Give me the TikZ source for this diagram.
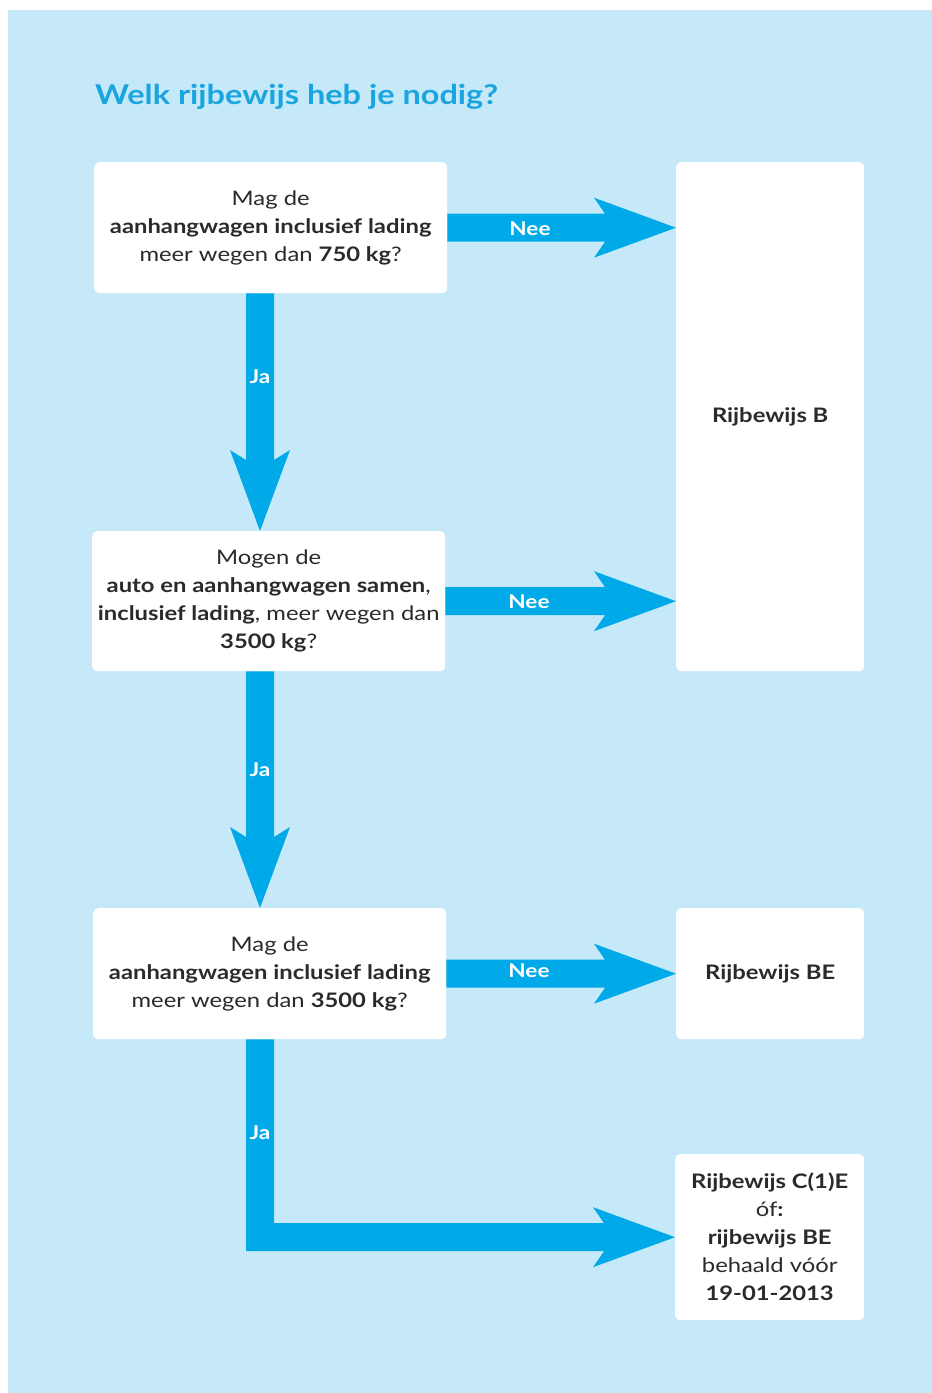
\documentclass[tikz,border=0pt]{standalone}
\usepackage{fontspec}
\setmainfont{Lato}[FakeStretch=1.19]
\usetikzlibrary{calc}
\definecolor{bgblue}{HTML}{C6E9F9}
\definecolor{arrowblue}{HTML}{00AAE9}
\definecolor{titleblue}{HTML}{1AA5DF}
\definecolor{txt}{HTML}{2A2A2A}
\tikzset{
  box/.style={fill=white, rounded corners=5pt, anchor=north west, align=center,
    text=txt, font=\fontsize{20}{28}\selectfont, inner sep=0pt},
  lbl/.style={text=white, font=\bfseries\fontsize{19}{22}\selectfont, inner sep=0pt},
  arr/.style={fill=arrowblue},
}
% horizontal arrow from point #1 (start, centre of shaft) to tip #2
\newcommand\HArrow[2]{%
  \fill[arr] let \p1=(#1), \p2=(#2) in
    (\x1,\y2+14pt) -- (\x2-71pt,\y2+14pt) -- (\x2-82pt,\y2+30pt) -- (\x2,\y2)
    -- (\x2-82pt,\y2-30pt) -- (\x2-71pt,\y2-14pt) -- (\x1,\y2-14pt) -- cycle;}
% vertical arrow from point #1 down to tip #2
\newcommand\VArrow[2]{%
  \fill[arr] let \p1=(#1), \p2=(#2) in
    (\x2-14pt,\y1) -- (\x2+14pt,\y1) -- (\x2+14pt,\y2+71pt) -- (\x2+30pt,\y2+81pt)
    -- (\x2,\y2) -- (\x2-30pt,\y2+81pt) -- (\x2-14pt,\y2+71pt) -- cycle;}
\begin{document}
\begin{tikzpicture}[x=1pt,y=-1pt]
\useasboundingbox (0,0) rectangle (932,1393);
\fill[bgblue] (8,10) rectangle (932,1393);

\node[anchor=base west, text=titleblue, font=\bfseries\fontsize{27.3}{32}\selectfont, inner sep=0pt]
  (title) at (95,104) {Welk rijbewijs heb je nodig?};

\node[box, minimum width=353pt, minimum height=131pt] (q1) at (94,162)
  {Mag de\\\textbf{aanhangwagen inclusief lading}\\meer wegen dan \textbf{750 kg}?};
\node[box, minimum width=353pt, minimum height=140pt] (q2) at (92,531)
  {Mogen de\\\textbf{auto en aanhangwagen samen},\\\textbf{inclusief lading}, meer wegen dan\\\textbf{3500 kg}?};
\node[box, minimum width=353pt, minimum height=131pt] (q3) at (93,908)
  {Mag de\\\textbf{aanhangwagen inclusief lading}\\meer wegen dan \textbf{3500 kg}?};
\node[box, minimum width=188pt, minimum height=509pt] (b) at (676,162) {\textbf{Rijbewijs B}};
\node[box, minimum width=188pt, minimum height=131pt] (be) at (676,908) {\textbf{Rijbewijs BE}};
\node[box, minimum width=189pt, minimum height=166pt] (c) at (675,1154)
  {\textbf{Rijbewijs C(1)E}\\óf\textbf{:}\\\textbf{rijbewijs BE}\\behaald vóór\\\textbf{19-01-2013}};

% Nee arrows
\coordinate (t1) at (b.west |- q1.east);
\coordinate (t2) at (b.west |- q2.east);
\coordinate (t3) at (be.west |- q3.east);
\HArrow{q1.east}{t1}
\HArrow{q2.east}{t2}
\HArrow{q3.east}{t3}
\node[lbl] (n1) at (530,229) {Nee};
\node[lbl] (n2) at (529,602) {Nee};
\node[lbl] (n3) at (529,971) {Nee};

% Ja arrows
\coordinate (s1) at (260,0 |- q1.south);
\coordinate (e1) at (260,0 |- q2.north);
\coordinate (s2) at (260,0 |- q2.south);
\coordinate (e2) at (260,0 |- q3.north);
\VArrow{s1}{e1}
\VArrow{s2}{e2}
\node[lbl] (j1) at (260,377) {Ja};
\node[lbl] (j2) at (260,770) {Ja};

% elbow arrow
\coordinate (s3) at (260,0 |- q3.south);
\coordinate (t4) at (c.west);
\fill[arr] let \p1=(s3), \p2=(t4) in
  (\x1-14pt,\y1) -- (\x1+14pt,\y1) -- (\x1+14pt,\y2+14pt) -- (\x2-71pt,\y2+14pt)
  -- (\x2-82pt,\y2+30pt) -- (\x2,\y2) -- (\x2-82pt,\y2-30pt) -- (\x2-71pt,\y2-14pt)
  -- (\x1-14pt,\y2-14pt) -- cycle;
\node[lbl] (j3) at (260,1133) {Ja};
\end{tikzpicture}
\end{document}
